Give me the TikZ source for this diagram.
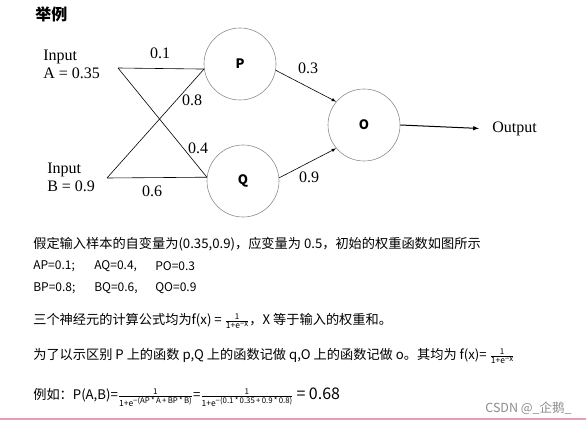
\documentclass[tikz,border=0pt]{standalone}
\usepackage{fontspec}
\usepackage{amsmath}
\setmainfont{Liberation Serif}
\newfontfamily\cjk{Noto Sans CJK SC}
\usetikzlibrary{arrows}
\definecolor{gray1}{RGB}{140, 140, 140}
\definecolor{pink1}{RGB}{228, 160, 178}
\newcommand{\smallfr}[2]{\ensuremath{\genfrac{}{}{0.4pt}{}{\text{\fontsize{8}{8}\selectfont #1}}{\text{\fontsize{8.5}{8.5}\selectfont #2}}}}
\newcommand{\expo}[1]{\raisebox{2.8pt}{\fontsize{7.8}{7.8}\selectfont #1}}

\begin{document}
\begin{tikzpicture}[x=1pt, y=-1pt, line width=0.6pt,
  neuron/.style={circle, draw=gray1, minimum size=72pt, font=\cjk\bfseries\fontsize{13}{13}\selectfont},
  wlabel/.style={font=\fontsize{16}{16}\selectfont, inner sep=0pt},
  txt/.style={anchor=west, inner sep=0pt, font=\cjk\fontsize{13.2}{15}\selectfont}]
  \useasboundingbox (0,0) rectangle (586,422);
  \node[anchor=west, inner sep=0pt, font=\cjk\bfseries\fontsize{16}{16}\selectfont] (title) at (35,14) {举例};
  % network
  \node[neuron] (P) at (240,64) {P};
  \node[neuron] (Q) at (243,181) {Q};
  \node[neuron] (O) at (364,125) {O};
  \coordinate (a) at (118,68);
  \coordinate (b) at (107,178);
  \node[wlabel, anchor=west, align=left, font=\fontsize{16}{18}\selectfont] (inA) at (43,64) {Input\\A = 0.35};
  \node[wlabel, anchor=west, align=left, font=\fontsize{16}{18}\selectfont] (inB) at (47,177) {Input\\B = 0.9};
  \node[wlabel, anchor=west] (output) at (492,129) {Output};
  \draw (a) -- (P.188);
  \draw (a) -- (Q.174);
  \draw (b) -- (P.188);
  \draw (b) -- (Q.174);
  \foreach \from/\to in {P.-10/O.140, Q.5/O.-140}
   \draw[-latex] (\from) -- (\to);
  \draw[-latex, line width=1pt, shorten >=13pt] (O.east) -- (output.west);
  \node[wlabel] (wAP) at (160,53) {0.1};
  \node[wlabel] (wBP) at (192,100) {0.8};
  \node[wlabel] (wAQ) at (198,148) {0.4};
  \node[wlabel] (wBQ) at (152,191) {0.6};
  \node[wlabel] (wPO) at (308,68) {0.3};
  \node[wlabel] (wQO) at (309,177) {0.9};
  % text below
  \node[txt] (l1) at (33,244) {假定输入样本的自变量为(0.35,0.9)，应变量为 0.5，初始的权重函数如图所示};
  \node[txt, font=\cjk\fontsize{12}{14}\selectfont] (l2a) at (33,266) {AP=0.1;};
  \node[txt, font=\cjk\fontsize{12}{14}\selectfont] (l2b) at (94,266) {AQ=0.4,};
  \node[txt, font=\cjk\fontsize{12}{14}\selectfont] (l2c) at (155,266) {PO=0.3};
  \node[txt, font=\cjk\fontsize{12}{14}\selectfont] (l3a) at (33,288) {BP=0.8;};
  \node[txt, font=\cjk\fontsize{12}{14}\selectfont] (l3b) at (94,288) {BQ=0.6,};
  \node[txt, font=\cjk\fontsize{12}{14}\selectfont] (l3c) at (155,288) {QO=0.9};
  \node[txt] (l4) at (33,321) {三个神经元的计算公式均为f(x) = \smallfr{1}{1+e\expo{−x}}，X 等于输入的权重和。};
  \node[txt] (l5) at (33,356) {为了以示区别 P 上的函数 p,Q 上的函数记做 q,O 上的函数记做 o。其均为 f(x)= \smallfr{1}{1+e\expo{−x}}};
  \node[txt] (l6) at (33,397) {例如：P(A,B)=\smallfr{1}{1+e\expo{−(AP\,*\,A\,+\,BP\,*\,B)}}=\smallfr{1}{1+e\expo{−(0.1\,*\,0.35\,+\,0.9\,*\,0.8)}} {\fontsize{16}{16}\selectfont = 0.68}};
  \node[anchor=east, inner sep=0pt, text=gray1, font=\cjk\fontsize{12.5}{14}\selectfont] (mark) at (572,408) {CSDN @\_企鹅\_};
  \draw[pink1, line width=1.2pt] (0,419) -- (586,419);
\end{tikzpicture}
\end{document}
